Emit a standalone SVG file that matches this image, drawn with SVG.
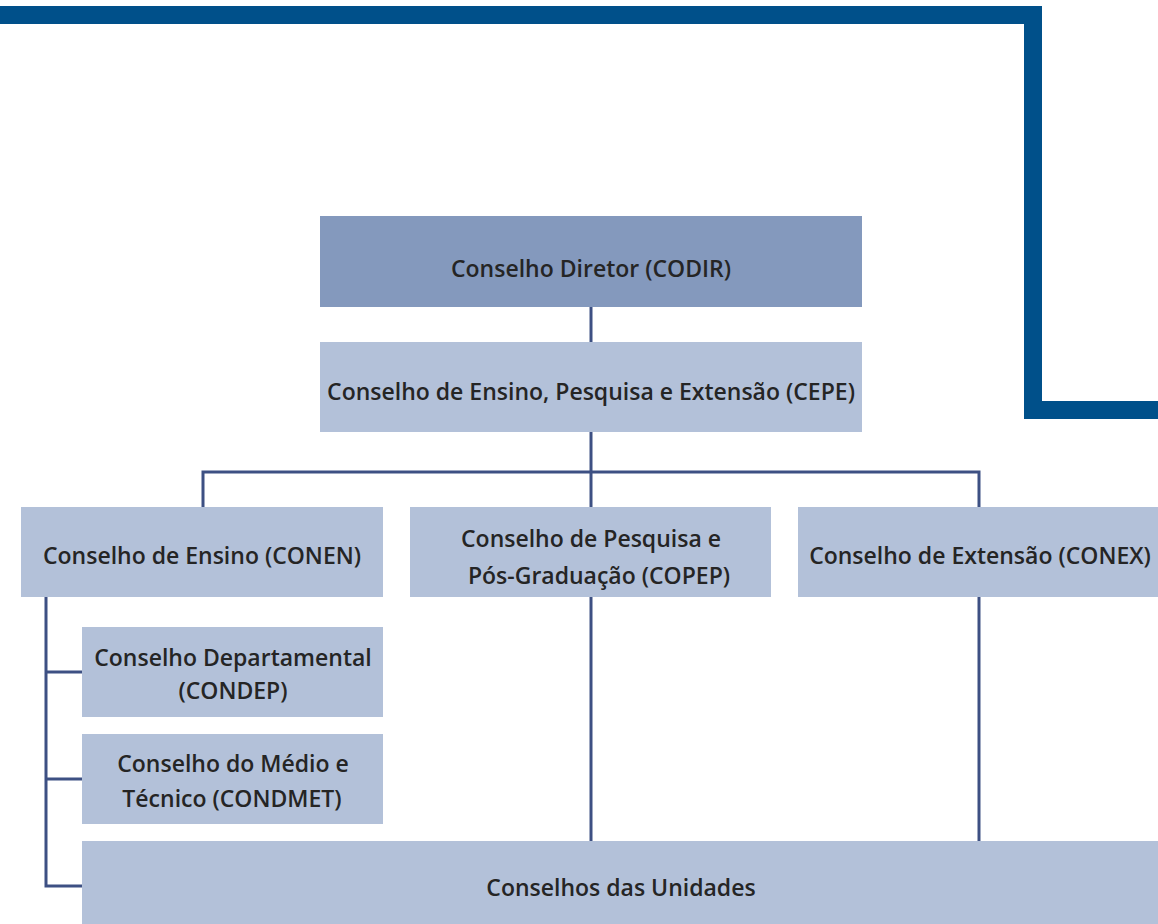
<svg xmlns="http://www.w3.org/2000/svg" width="1158" height="924" viewBox="0 0 1158 924">
<style>
.frame{fill:#00508a}
.dark{fill:#8499bd}
.light{fill:#b3c1d9}
.t{font-family:"Open Sans","Liberation Sans",sans-serif;font-weight:600;font-size:23px;fill:#252525;text-anchor:middle;dominant-baseline:central}
.c{fill:none;stroke:#3d5083;stroke-width:3}
</style>
<rect width="1158" height="924" fill="#ffffff"/>
<g id="frame">
<rect class="frame" x="0" y="6" width="1042" height="18"/>
<rect class="frame" x="1024" y="6" width="18" height="413"/>
<rect class="frame" x="1024" y="401" width="134" height="18"/>
</g>
<g id="connectors">
<line class="c" x1="591" y1="307" x2="591" y2="342"/>
<line class="c" x1="591" y1="432" x2="591" y2="472"/>
<polyline class="c" points="203,507 203,472 979,472 979,507"/>
<line class="c" x1="591" y1="472" x2="591" y2="507"/>
<line class="c" x1="591" y1="597" x2="591" y2="841"/>
<line class="c" x1="979" y1="597" x2="979" y2="841"/>
<polyline class="c" points="46,597 46,886 82,886"/>
<line class="c" x1="46" y1="672" x2="82" y2="672"/>
<line class="c" x1="46" y1="779" x2="82" y2="779"/>
</g>
<g id="codir">
<rect class="dark" x="320" y="216" width="542" height="91"/>
<text class="t" x="591" y="268">Conselho Diretor (CODIR)</text>
</g>
<g id="cepe">
<rect class="light" x="320" y="342" width="542" height="90"/>
<text class="t" x="591" y="391">Conselho de Ensino, Pesquisa e Extensão (CEPE)</text>
</g>
<g id="conen">
<rect class="light" x="21" y="507" width="362" height="90"/>
<text class="t" x="202" y="555">Conselho de Ensino (CONEN)</text>
</g>
<g id="copep">
<rect class="light" x="410" y="507" width="361" height="90"/>
<text class="t" x="591" y="538">Conselho de Pesquisa e</text>
<text class="t" x="599" y="575">Pós-Graduação (COPEP)</text>
</g>
<g id="conex">
<rect class="light" x="798" y="507" width="360" height="90"/>
<text class="t" x="980" y="555">Conselho de Extensão (CONEX)</text>
</g>
<g id="condep">
<rect class="light" x="82" y="627" width="301" height="90"/>
<text class="t" x="233" y="657">Conselho Departamental</text>
<text class="t" x="233" y="690">(CONDEP)</text>
</g>
<g id="condmet">
<rect class="light" x="82" y="734" width="301" height="90"/>
<text class="t" x="233" y="763">Conselho do Médio e</text>
<text class="t" x="232" y="798">Técnico (CONDMET)</text>
</g>
<g id="unidades">
<rect class="light" x="82" y="841" width="1076" height="83"/>
<text class="t" x="621" y="887">Conselhos das Unidades</text>
</g>
</svg>
